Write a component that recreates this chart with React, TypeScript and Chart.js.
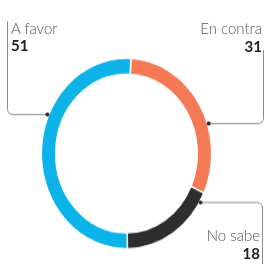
import React, { useEffect, useRef } from 'react';
import { Chart, registerables } from 'chart.js';

Chart.register(...registerables);

// ---- data ----
const categories = ['En contra', 'No sabe', 'A favor'];
const values = [31, 18, 51];
const colors = ['#F47A56', '#2E2D2F', '#0BB3E9'];

// ---- layout ----
const W = 265;
const H = 264;
const CH = 236; // internal canvas height; stretched vertically to H
const SY = H / CH;

type Leader = { index: number; t: number; vx: number; yEnd: number; dir: 'left' | 'right'; up: boolean };
const leaders: Leader[] = [
  { index: 2, t: 0.621, vx: 7.5, yEnd: 21, dir: 'left', up: true },
  { index: 0, t: 0.622, vx: 263.5, yEnd: 50, dir: 'right', up: true },
  { index: 1, t: 0.094, vx: 262.5, yEnd: 266, dir: 'right', up: false },
];

const leaderPlugin = {
  id: 'leaders',
  afterDraw(chart: any) {
    const ctx = chart.ctx as CanvasRenderingContext2D;
    const meta = chart.getDatasetMeta(0);
    ctx.save();
    leaders.forEach((l) => {
      const arc = meta.data[l.index];
      const { x, y, startAngle, endAngle, outerRadius } = arc.getProps(
        ['x', 'y', 'startAngle', 'endAngle', 'outerRadius'],
        true
      );
      const a = startAngle + l.t * (endAngle - startAngle);
      const px = x + Math.cos(a) * (outerRadius + 1);
      const py = Math.round((y + Math.sin(a) * (outerRadius + 1)) * SY) / SY - 0.5 / SY;
      const cr = 5;
      const yEnd = l.yEnd / SY;
      ctx.beginPath();
      ctx.strokeStyle = '#8c8c8c';
      ctx.lineWidth = 1;
      ctx.moveTo(px, py);
      const cx = l.dir === 'left' ? l.vx + cr : l.vx - cr;
      ctx.lineTo(cx, py);
      ctx.arcTo(l.vx, py, l.vx, l.up ? py - cr : py + cr, cr);
      ctx.lineTo(l.vx, yEnd);
      ctx.stroke();
      ctx.beginPath();
      ctx.fillStyle = '#2a2a2a';
      ctx.ellipse(px, py, 2, 2 / SY, 0, 0, Math.PI * 2);
      ctx.fill();
    });
    ctx.restore();
  },
};

const labelFont = "Lato, 'Open Sans', sans-serif";

type Lab = { text: string; value: number; left?: number; right?: number; top: number; topV: number };
const labels: Lab[] = [
  { text: categories[2], value: values[2], left: 11, top: 19, topV: 36 },
  { text: categories[0], value: values[0], right: 3, top: 19, topV: 37 },
  { text: categories[1], value: values[1], right: 5, top: 225.5, topV: 243.5 },
];

export default function App() {
  const ref = useRef<HTMLCanvasElement | null>(null);
  useEffect(() => {
    if (!ref.current) return;
    const chart = new Chart(ref.current, {
      type: 'doughnut',
      data: {
        labels: categories,
        datasets: [
          {
            data: values,
            backgroundColor: colors,
            borderColor: '#ffffff',
            borderWidth: 1.5,
          },
        ],
      },
      options: {
        animation: false,
        responsive: false,
        maintainAspectRatio: false,
        devicePixelRatio: 1,
        rotation: 3,
        radius: 85.2,
        cutout: '83.1%',
        layout: { padding: { left: 0, right: 12, top: 38.4, bottom: 0 } },
        plugins: { legend: { display: false }, tooltip: { enabled: false } },
        events: [],
      } as any,
      plugins: [leaderPlugin],
    });
    return () => chart.destroy();
  }, []);

  return (
    <div
      style={{
        position: 'fixed',
        left: 0,
        top: 0,
        width: W,
        height: H,
        background: '#fff',
        overflow: 'hidden',
      }}
    >
      <canvas
        ref={ref}
        width={W}
        height={CH}
        style={{ position: 'absolute', left: 0, top: 0, width: `${W}px`, height: `${H}px` }}
      />
      {labels.map((l) => (
        <React.Fragment key={l.text}>
          <div
            style={{
              position: 'absolute',
              top: l.top,
              left: l.left,
              right: l.right,
              fontFamily: labelFont,
              fontWeight: 300,
              fontSize: 15,
              lineHeight: 1.2,
              color: '#555',
              whiteSpace: 'nowrap',
              textAlign: l.right !== undefined ? 'right' : 'left',
            }}
          >
            {l.text}
          </div>
          <div
            style={{
              position: 'absolute',
              top: l.topV,
              left: l.left,
              right: l.right,
              fontFamily: labelFont,
              fontWeight: 700,
              fontSize: 15,
              lineHeight: 1.2,
              color: '#222',
              whiteSpace: 'nowrap',
              textAlign: l.right !== undefined ? 'right' : 'left',
            }}
          >
            {l.value}
          </div>
        </React.Fragment>
      ))}
    </div>
  );
}
